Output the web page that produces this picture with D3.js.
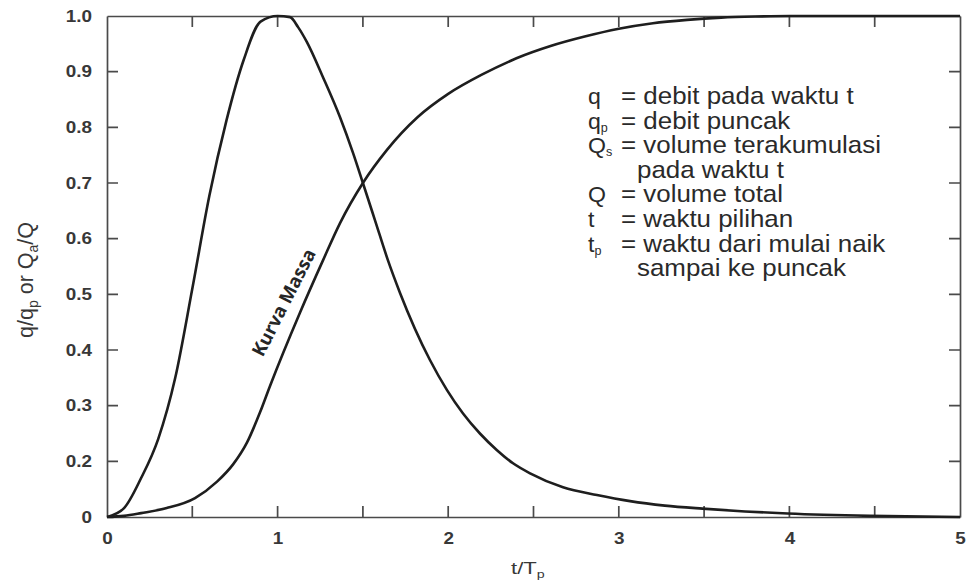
<!DOCTYPE html>
<html>
<head>
<meta charset="utf-8">
<script src="https://cdn.jsdelivr.net/npm/d3@7"></script>
<style>
  html, body { margin: 0; padding: 0; background: #fff; }
  svg { display: block; font-family: "Liberation Sans", Arial, sans-serif; }
</style>
</head>
<body>
<svg id="chart" width="967" height="581"></svg>
<script>
// Dimensionless unit hydrograph: discharge ratio q/qp and mass curve Qa/Q against t/Tp
const tDischarge = [0, 0.1, 0.2, 0.3, 0.4, 0.5, 0.6, 0.7, 0.8, 0.9, 1.0,
  1.073, 1.12, 1.172, 1.266, 1.366, 1.442, 1.5, 1.571, 1.647, 1.717, 1.893, 1.993, 2.087, 2.186,
  2.286, 2.38, 2.48, 2.673, 2.872, 3.066, 3.27, 3.49, 3.74, 3.99, 4.47, 5.0];
const dischargeRatio = [0, 0.032, 0.14, 0.24, 0.35, 0.51, 0.677, 0.812, 0.92, 0.99, 1.0,
  0.998, 0.98, 0.953, 0.89, 0.818, 0.754, 0.70, 0.633, 0.561, 0.503, 0.382, 0.328, 0.286, 0.25,
  0.22, 0.193, 0.157, 0.107, 0.079, 0.057, 0.041, 0.030, 0.020, 0.0125, 0.004, 0];

const tMass = [0, 0.1, 0.2, 0.35, 0.516, 0.645, 0.739, 0.821, 0.897, 0.955, 1.131, 1.266, 1.366, 1.5,
  1.64, 1.82, 2.0, 2.2, 2.4, 2.6, 2.8, 3.0, 3.2, 3.4, 3.6, 3.8, 4.0, 5.0];
const massRatio = [0, 0.004, 0.014, 0.032, 0.068, 0.127, 0.189, 0.234, 0.288, 0.335, 0.467, 0.561, 0.628, 0.70,
  0.759, 0.818, 0.86, 0.895, 0.924, 0.946, 0.963, 0.977, 0.987, 0.993, 0.997, 0.999, 1.0, 1.0];

const xTicks = [0, 0.5, 1, 1.5, 2, 2.5, 3, 3.5, 4, 4.5, 5];
const yTicks = [0, 0.2, 0.3, 0.4, 0.5, 0.6, 0.7, 0.8, 0.9, 1.0];

const legendRows = [
  { sym: "q", sub: "", text: "= debit pada waktu t" },
  { sym: "q", sub: "p", text: "= debit puncak" },
  { sym: "Q", sub: "s", text: "= volume terakumulasi" },
  { sym: "", sub: "", text: "pada waktu t", indent: true },
  { sym: "Q", sub: "", text: "= volume total" },
  { sym: "t", sub: "", text: "= waktu pilihan" },
  { sym: "t", sub: "p", text: "= waktu dari mulai naik" },
  { sym: "", sub: "", text: "sampai ke puncak", indent: true }
];

const svg = d3.select("#chart");
const plotLeft = 107, plotRight = 960, plotTop = 16, plotBottom = 517;
const stretch = 1.18; // wide lettering of the tick labels

const x = d3.scaleLinear().domain([0, 5]).range([plotLeft, plotRight]);
// The vertical axis has no 0.1 step: 0 to 0.2 takes one tick interval
const y = d3.scaleLinear().domain([0, 0.2, 1])
  .range([plotBottom, plotBottom - (plotBottom - plotTop) / 9, plotTop]);

const axisColor = "#4a4a4a";
const labelColor = "#383838";
const tickLen = 11;

function styleAxis(g) {
  g.select(".domain").attr("stroke", axisColor).attr("stroke-width", 1.7);
  g.selectAll(".tick line").remove();
  g.selectAll(".tick text")
    .attr("fill", labelColor)
    .style("font-family", "'Liberation Sans', Arial, sans-serif")
    .style("font-size", "16px")
    .style("font-weight", "bold");
}

// bottom axis with integer labels
const gx = svg.append("g")
  .attr("transform", `translate(0,${plotBottom})`)
  .call(d3.axisBottom(x).tickValues(xTicks).tickSize(0).tickPadding(16)
    .tickFormat(d => Number.isInteger(d) ? d3.format("d")(d) : ""))
  .call(styleAxis);
gx.selectAll(".tick text").attr("transform", `scale(${stretch},1)`);

// top frame
svg.append("g")
  .attr("transform", `translate(0,${plotTop})`)
  .call(d3.axisTop(x).tickValues(xTicks).tickSize(0).tickFormat(""))
  .call(styleAxis);

// left axis
const padY = 15;
const gy = svg.append("g")
  .attr("transform", `translate(${plotLeft},0)`)
  .call(d3.axisLeft(y).tickValues(yTicks).tickSize(0).tickPadding(padY)
    .tickFormat(d => d === 0 ? "0" : d3.format(".1f")(d)))
  .call(styleAxis);
gy.selectAll(".tick text").attr("x", -padY / stretch).attr("transform", `scale(${stretch},1)`);

// right frame
svg.append("g")
  .attr("transform", `translate(${plotRight},0)`)
  .call(d3.axisRight(y).tickValues(yTicks).tickSize(0).tickFormat(""))
  .call(styleAxis);

// inward tick marks on all four sides
const inner = xTicks.filter(d => d > 0 && d < 5);
const innerY = yTicks.filter(d => d > 0 && d < 1);
const tickPath = d3.path();
inner.forEach(d => {
  tickPath.moveTo(x(d), plotBottom); tickPath.lineTo(x(d), plotBottom - tickLen);
  tickPath.moveTo(x(d), plotTop); tickPath.lineTo(x(d), plotTop + tickLen);
});
innerY.forEach(d => {
  tickPath.moveTo(plotLeft, y(d)); tickPath.lineTo(plotLeft + tickLen, y(d));
  tickPath.moveTo(plotRight, y(d)); tickPath.lineTo(plotRight - tickLen, y(d));
});
svg.append("path")
  .attr("d", tickPath.toString())
  .attr("fill", "none")
  .attr("stroke", axisColor)
  .attr("stroke-width", 1.7);

// curves
const line = d3.line().x(d => x(d[0])).y(d => y(d[1])).curve(d3.curveMonotoneX);
const dischargePts = tDischarge.map((t, i) => [t, dischargeRatio[i]]);
const massPts = tMass.map((t, i) => [t, massRatio[i]]);

svg.append("path").datum(dischargePts)
  .attr("d", line).attr("fill", "none").attr("stroke", "#1e1e1e").attr("stroke-width", 2.6);
svg.append("path").datum(massPts)
  .attr("d", line).attr("fill", "none").attr("stroke", "#1e1e1e").attr("stroke-width", 2.6);

// curve label along the mass curve
svg.append("text")
  .attr("transform", `translate(${x(1.07)},${y(0.48)}) rotate(-63)`)
  .attr("text-anchor", "middle")
  .attr("fill", "#262626")
  .style("font-size", "18.5px")
  .style("font-weight", "bold")
  .style("font-family", "'Open Sans', 'Liberation Sans', sans-serif")
  .text("Kurva Massa");

// axis titles
const xTitle = svg.append("text")
  .attr("transform", `translate(511,574) scale(1.3,1)`)
  .attr("fill", labelColor)
  .style("font-size", "17px");
xTitle.append("tspan").text("t/T");
xTitle.append("tspan").attr("dy", 4).style("font-size", "11px").text("p");

const yTitle = svg.append("text")
  .attr("transform", "translate(33,280) rotate(-90)")
  .attr("text-anchor", "middle")
  .attr("fill", labelColor)
  .style("font-size", "21.5px");
yTitle.append("tspan").text("q/q");
yTitle.append("tspan").attr("dy", 5).style("font-size", "14px").text("p");
yTitle.append("tspan").attr("dy", -5).text(" or Q");
yTitle.append("tspan").attr("dy", 5).style("font-size", "14px").text("a");
yTitle.append("tspan").attr("dy", -5).text("/Q");

// legend
const legend = svg.append("g").attr("fill", "#2a2a2a");
legendRows.forEach((r, i) => {
  const yy = 104 + i * 24.6;
  if (r.sym) {
    const s = legend.append("text")
      .attr("transform", `translate(588,${yy}) scale(1.05,1)`)
      .style("font-size", "22px");
    s.append("tspan").text(r.sym);
    if (r.sub) s.append("tspan").attr("dy", 3).style("font-size", "12px").text(r.sub);
  }
  legend.append("text")
    .attr("transform", `translate(${r.indent ? 637 : 621},${yy}) scale(1.08,1)`)
    .style("font-size", "24px")
    .text(r.text);
});
</script>
</body>
</html>
